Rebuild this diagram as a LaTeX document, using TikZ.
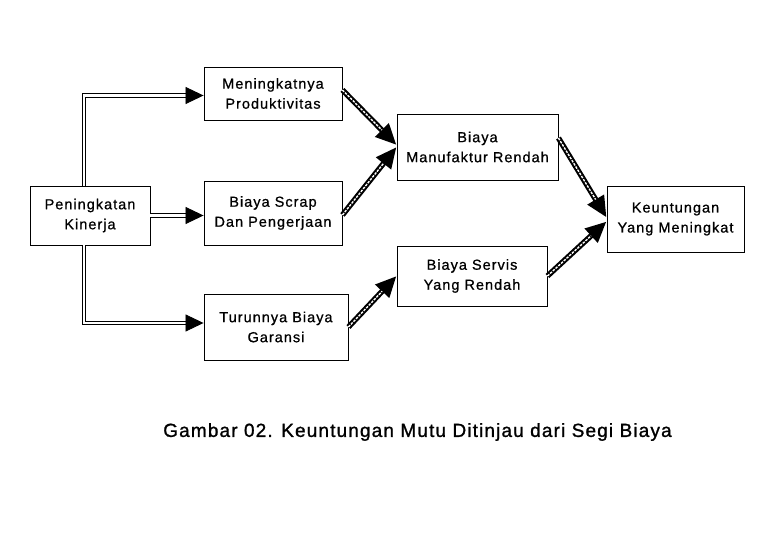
\documentclass[tikz,border=0pt]{standalone}
\usepackage{fontspec}
\setmainfont{Liberation Sans}
\newfontfamily\boxfont{Liberation Sans}[LetterSpace=7,FakeBold=0.8]
\newfontfamily\capfont{Liberation Sans}[LetterSpace=6,FakeBold=1.2]
\usetikzlibrary{arrows.meta}
\tikzset{
  box/.style={draw, line width=0.9pt, align=center, inner sep=0pt,
    font=\boxfont\fontsize{14.5}{20}\selectfont},
  dbl/.style={draw, line width=0.85pt, double, double distance=2.4pt,
    -{Triangle[length=18pt,width=17pt]}},
  hatch/.style={line width=5.5pt, -{Triangle[length=21pt,width=18pt]},
    postaction={draw, white, line width=1.4pt, dash pattern=on 2.5pt off 1.2pt,
      shorten >=21pt, arrows=-}},
}
\begin{document}
\begin{tikzpicture}[x=1pt,y=-1pt]
\useasboundingbox (0,0) rectangle (780,540);
\node[box, minimum width=138pt, minimum height=53pt] (prod) at (273,93.5) {Meningkatnya\\Produktivitas};
\node[box, minimum width=120pt, minimum height=59pt] (kin) at (90,215.5) {Peningkatan\\Kinerja};
\node[box, minimum width=138pt, minimum height=64pt] (scrap) at (273,213) {Biaya Scrap\\Dan Pengerjaan};
\node[box, minimum width=144pt, minimum height=66pt] (gar) at (276,327) {Turunnya Biaya\\Garansi};
\node[box, minimum width=161pt, minimum height=66pt] (manu) at (477.5,147) {Biaya\\Manufaktur Rendah};
\node[box, minimum width=150pt, minimum height=60pt] (serv) at (472,276) {Biaya Servis\\Yang Rendah};
\node[box, minimum width=137pt, minimum height=66pt] (keun) at (675.5,219) {Keuntungan\\Yang Meningkat};

\draw[dbl] ([xshift=-6pt]kin.north) |- ([yshift=-2pt]prod.west);
\draw[dbl] (kin.east) -- (kin.east -| scrap.west);
\draw[dbl] ([xshift=-6pt]kin.south) |- ([yshift=4pt]gar.west);

\draw[hatch] ([yshift=3.5pt]prod.east) -- ([yshift=2pt]manu.west);
\draw[hatch] ([yshift=-2pt]scrap.east) -- (manu.west);
\draw[hatch] (gar.east) -- (serv.west);
\draw[hatch] ([yshift=9pt]manu.east) -- ([yshift=1.5pt]keun.west);
\draw[hatch] (serv.east) -- ([yshift=-2.5pt]keun.west);

\node[font=\capfont\fontsize{19}{22}\selectfont] (cap) at (417.5,432) {Gambar 02. Keuntungan Mutu Ditinjau dari Segi Biaya};
\end{tikzpicture}
\end{document}
